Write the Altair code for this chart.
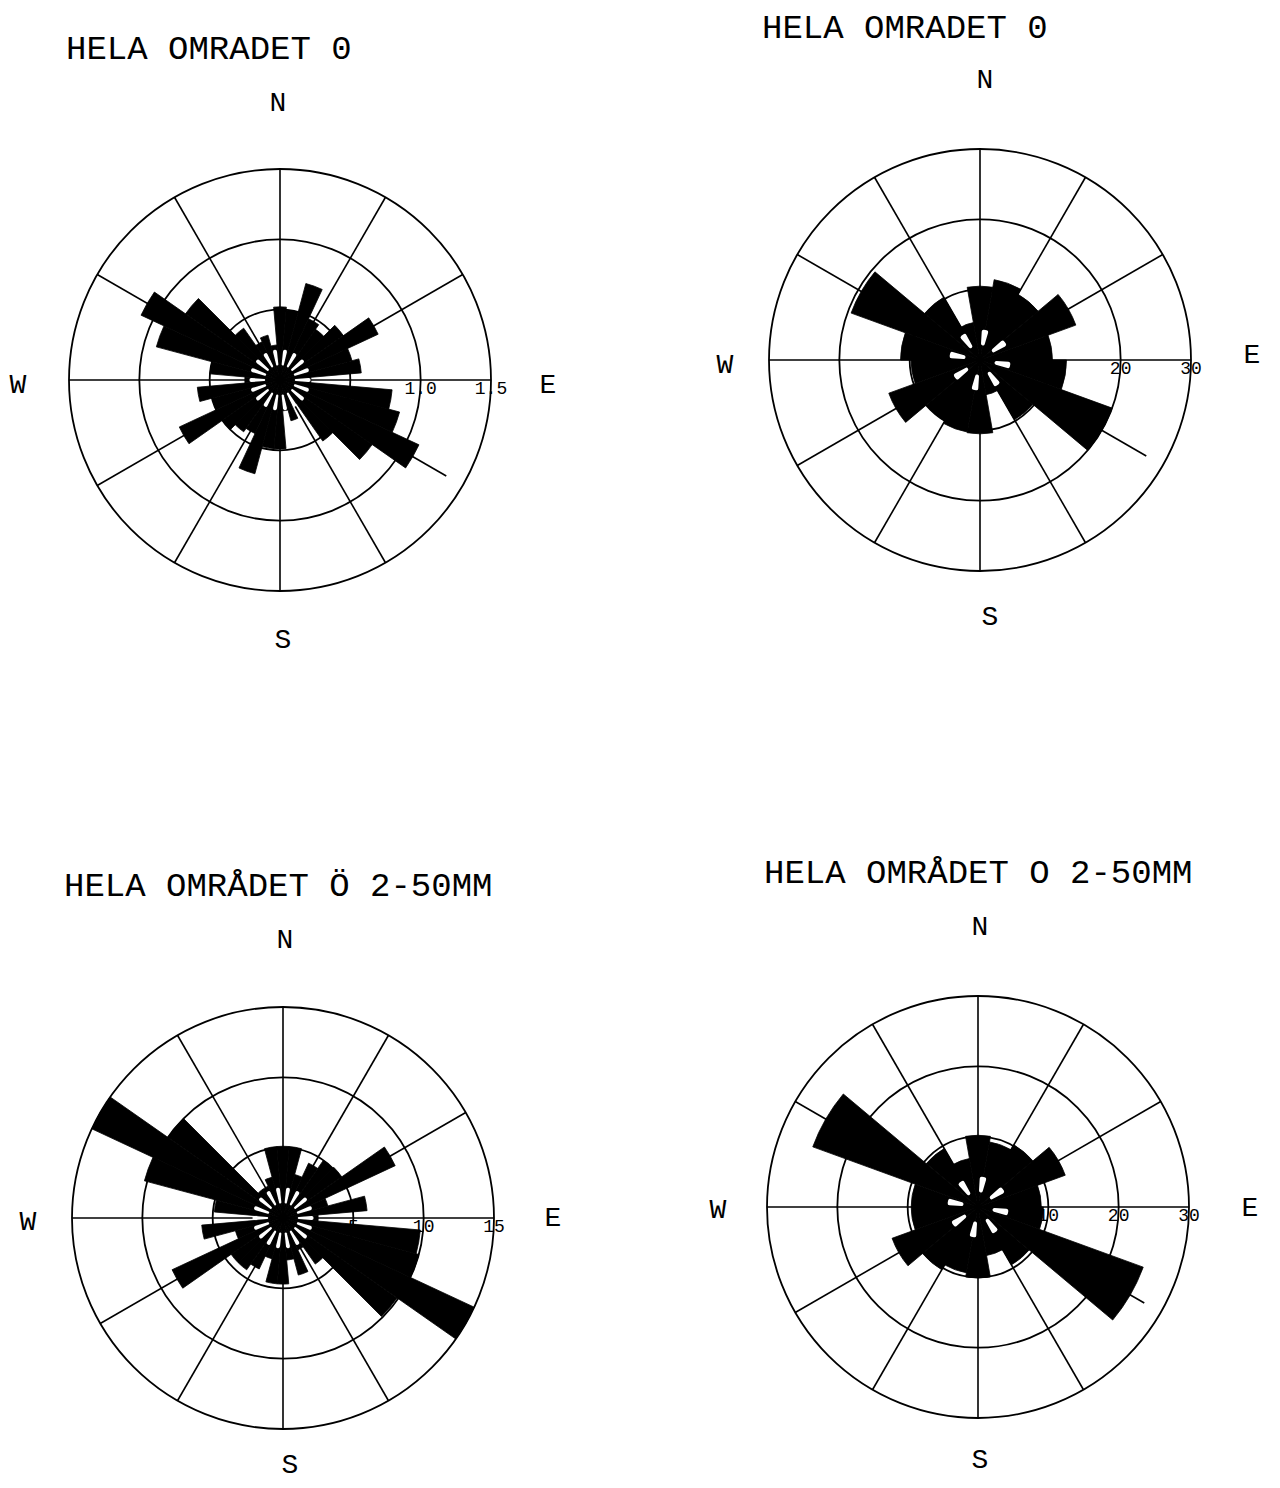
import math
import altair as alt
import pandas as pd

# ---------------- data ----------------
titles = ["HELA OMRADET 0", "HELA OMRADET 0",
          "HELA OMRÅDET Ö 2-50MM", "HELA OMRÅDET O 2-50MM"]
full_scale = [1.5, 30, 15, 30]          # value at the outer ring
bin_width = [10, 20, 10, 20]            # degrees per sector

tick_values = [[1.0, 1.5], [20, 30], [5, 10, 15], [10, 20, 30]]
tick_labels = [["1.0", "1.5"], ["20", "30"], ["5", "10", "15"], ["10", "20", "30"]]

# sector lengths, clockwise from north (sector k centred on k*bin_width)
p1_values = [0.52, 0.50, 0.71, 0.48, 0.44, 0.55, 0.77, 0.53, 0.58, 0.22,
             0.80, 0.88, 1.09, 0.80, 0.53, 0.20, 0.30, 0.22, 0.49, 0.49,
             0.69, 0.42, 0.45, 0.50, 0.79, 0.50, 0.59, 0.25, 0.50, 0.91,
             1.09, 0.82, 0.45, 0.30, 0.33, 0.25]
p2_values = [10.5, 11.6, 10.8, 14.5, 10.3, 12.3, 20.0, 9.8, 5.0,
             10.5, 10.4, 10.0, 13.8, 9.8, 11.3, 19.5, 10.3, 5.4]
p3_values = [5.1, 5.1, 3.2, 4.3, 5.0, 5.1, 8.8, 3.3, 6.0, 2.5,
             9.8, 10.0, 15.0, 9.9, 4.0, 2.5, 4.2, 3.0, 4.7, 4.7,
             3.0, 4.0, 4.5, 4.5, 8.7, 3.5, 5.8, 1.8, 4.9, 10.2,
             15.0, 10.0, 2.5, 2.5, 3.0, 5.1]
p4_values = [10.2, 9.4, 10.2, 13.2, 9.0, 9.3, 25.0, 9.5, 7.0,
             10.1, 9.5, 10.3, 13.0, 9.5, 9.5, 25.0, 9.6, 7.0]
panel_values = [p1_values, p2_values, p3_values, p4_values]

ring_fracs = [1 / 3, 2 / 3, 1.0]
spoke_angles = list(range(0, 360, 30))
compass_letters = ["N", "E", "S", "W"]

# ---------------- layout / style (page pixels) ----------------
M = 8
W, H = 1264, 1472
R = 211
centers = [(280, 380), (980, 360), (283, 1218), (978, 1207)]
title_pos = [(66, 49), (762, 28), (64, 886), (764, 873)]
compass_pos = [
    {"N": (278, 103), "E": (548, 385), "S": (283, 640), "W": (18, 385)},
    {"N": (985, 80), "E": (1252, 355), "S": (990, 617), "W": (725, 365)},
    {"N": (285, 940), "E": (553, 1218), "S": (290, 1465), "W": (28, 1222)},
    {"N": (980, 927), "E": (1250, 1208), "S": (980, 1460), "W": (718, 1210)},
]
spoke_len = {120: 0.91}   # the 120 degree spoke stops short of the rim
# white slits of the plotter hatching near each rose's centre
petal_step = [20, 45, 20, 45]
petal_width = [8, 13, 8, 13]
petal_r = (0.07, 0.145)

# ---------------- tables ----------------
wedges, rings, spokes, ticks, letters, heads, petals = [], [], [], [], [], [], []
for i in range(4):
    cx, cy = centers[i]
    bw = bin_width[i]
    for k, v in enumerate(panel_values[i]):
        c = k * bw
        wedges.append({"panel": i, "cx": cx, "cy": cy, "t0": c - bw / 2,
                       "t1": c + bw / 2, "frac": v / full_scale[i]})
    for f in ring_fracs:
        rings.append({"panel": i, "cx": cx, "cy": cy, "t0": 0, "t1": 360, "frac": f})
    for a in spoke_angles:
        L = R * spoke_len.get(a, 1.0)
        spokes.append({"panel": i, "x": cx, "y": cy,
                       "x2": cx + L * math.sin(math.radians(a)),
                       "y2": cy - L * math.cos(math.radians(a))})
    for a in range(0, 360, petal_step[i]):
        petals.append({"panel": i, "cx": cx, "cy": cy,
                       "t0": a + 10 - petal_width[i] / 2, "t1": a + 10 + petal_width[i] / 2,
                       "r0": petal_r[0], "r1": petal_r[1]})
    for tv, tl in zip(tick_values[i], tick_labels[i]):
        ticks.append({"panel": i, "x": cx + tv / full_scale[i] * R, "y": cy + 9,
                      "label": tl})
    for L in compass_letters:
        px, py = compass_pos[i][L]
        letters.append({"panel": i, "x": px, "y": py, "label": L})
    heads.append({"panel": i, "x": title_pos[i][0], "y": title_pos[i][1],
                  "label": titles[i]})

wedges = pd.DataFrame(wedges)
rings = pd.DataFrame(rings)
spokes = pd.DataFrame(spokes)
petals = pd.DataFrame(petals)
ticks = pd.DataFrame(ticks)
letters = pd.DataFrame(letters)
heads = pd.DataFrame(heads)

xs = alt.Scale(domain=[M, M + W], nice=False, zero=False)
ys = alt.Scale(domain=[M, M + H], nice=False, zero=False, reverse=True)
ts = alt.Scale(type="linear", domain=[0, 360], range=[0, 2 * math.pi], nice=False, zero=False)
rs = alt.Scale(type="linear", domain=[0, 1], range=[0, R], nice=False, zero=True)

X = lambda f: alt.X(f, scale=xs, axis=None)
Y = lambda f: alt.Y(f, scale=ys, axis=None)

spoke_layer = alt.Chart(spokes).mark_rule(color="black", strokeWidth=1.6).encode(
    x=X("x:Q"), y=Y("y:Q"), x2="x2:Q", y2="y2:Q")

ring_layer = alt.Chart(rings).mark_arc(filled=False, stroke="black", strokeWidth=1.8).encode(
    x=X("cx:Q"), y=Y("cy:Q"),
    theta=alt.Theta("t0:Q", scale=ts, stack=False), theta2="t1:Q",
    radius=alt.Radius("frac:Q", scale=rs))

wedge_layer = alt.Chart(wedges).mark_arc(color="black", stroke="black", strokeWidth=0.8).encode(
    x=X("cx:Q"), y=Y("cy:Q"),
    theta=alt.Theta("t0:Q", scale=ts, stack=False), theta2="t1:Q",
    radius=alt.Radius("frac:Q", scale=rs))

petal_layer = alt.Chart(petals).mark_arc(color="white", cornerRadius=2).encode(
    x=X("cx:Q"), y=Y("cy:Q"),
    theta=alt.Theta("t0:Q", scale=ts, stack=False), theta2="t1:Q",
    radius=alt.Radius("r1:Q", scale=rs), radius2="r0:Q")

tick_layer = alt.Chart(ticks).mark_text(font="Liberation Mono", fontSize=18, color="black",
                                         align="center", baseline="middle").encode(
    x=X("x:Q"), y=Y("y:Q"), text="label:N")

letter_layer = alt.Chart(letters).mark_text(font="Liberation Mono", fontSize=28, color="black",
                                             align="center", baseline="middle").encode(
    x=X("x:Q"), y=Y("y:Q"), text="label:N")

title_layer = alt.Chart(heads).mark_text(font="Liberation Mono", fontSize=34, color="black",
                                          align="left", baseline="middle").encode(
    x=X("x:Q"), y=Y("y:Q"), text="label:N")

chart = alt.layer(spoke_layer, ring_layer, wedge_layer, petal_layer, tick_layer,
                  letter_layer, title_layer).properties(
    width=W, height=H, autosize=alt.AutoSizeParams(type="none"), padding=0,
    background="white"
).configure_view(stroke=None)

chart.save("out.html", embed_options={"renderer": "svg", "actions": False})
